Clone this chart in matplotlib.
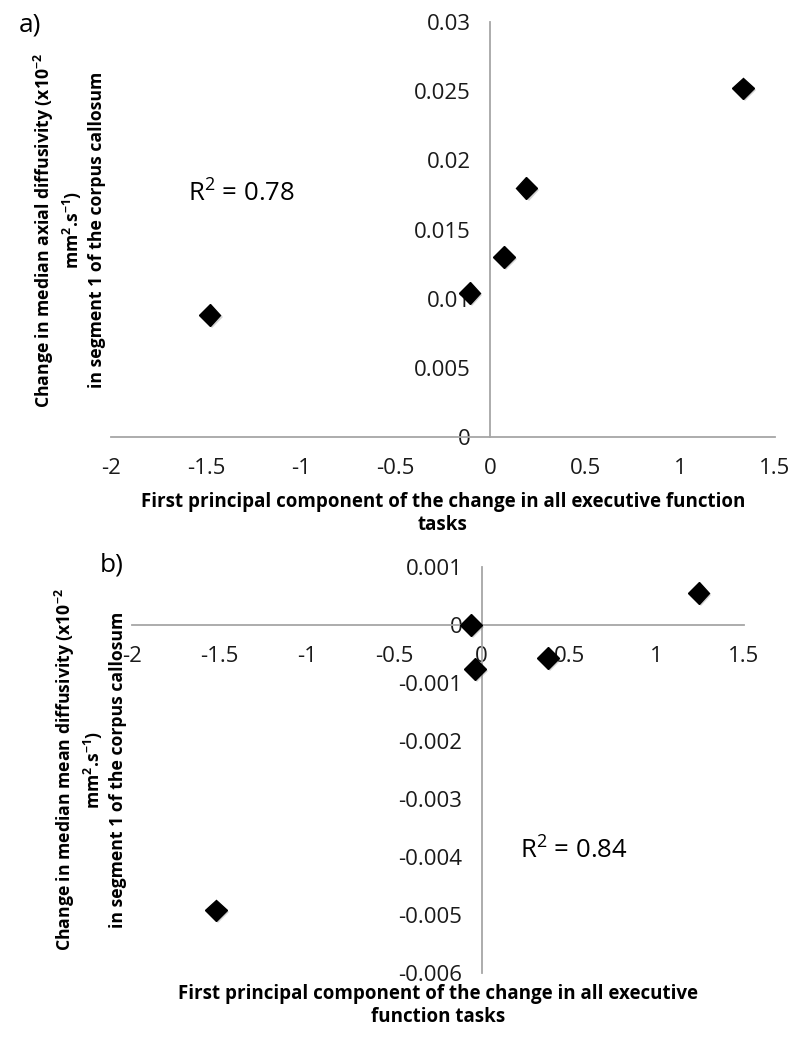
import matplotlib
matplotlib.use("Agg")
import matplotlib.pyplot as plt
import matplotlib.patheffects as pe
from matplotlib.ticker import FuncFormatter

plt.rcParams['font.family'] = ['Open Sans', 'DejaVu Sans']
plt.rcParams['mathtext.fontset'] = 'custom'
plt.rcParams['mathtext.rm'] = 'Open Sans'
plt.rcParams['mathtext.bf'] = 'Open Sans:bold'

# panel a: axial diffusivity
pc_a = [-1.48, -0.11, 0.07, 0.19, 1.33]
axial_a = [0.0088, 0.0104, 0.0130, 0.0180, 0.0252]
xticks_a = [-2, -1.5, -1, -0.5, 0, 0.5, 1, 1.5]
yticks_a = [0, 0.005, 0.01, 0.015, 0.02, 0.025, 0.03]

# panel b: mean diffusivity
pc_b = [-1.52, -0.06, -0.04, 0.38, 1.24]
mean_b = [-0.00492, 0.0, -0.00076, -0.00057, 0.00055]
xticks_b = [-2, -1.5, -1, -0.5, 0, 0.5, 1, 1.5]
yticks_b = [-0.006, -0.005, -0.004, -0.003, -0.002, -0.001, 0, 0.001]

xlabel_a = "First principal component of the change in all executive function\ntasks"
xlabel_b = "First principal component of the change in all executive\nfunction tasks"
ylabel_a = ("Change in median axial diffusivity (x10$^{\\mathbf{-2}}$\n"
            "mm$^{\\mathbf{2}}$.s$^{\\mathbf{-1}}$)\n"
            "in segment 1 of the corpus callosum")
ylabel_b = ("Change in median mean diffusivity (x10$^{\\mathbf{-2}}$\n"
            "mm$^{\\mathbf{2}}$.s$^{\\mathbf{-1}}$)\n"
            "in segment 1 of the corpus callosum")

W, H = 800, 1050
fig = plt.figure(figsize=(8, 10.5), dpi=100)


def px_axes(left, top, right, bottom):
    return fig.add_axes([left / W, 1 - bottom / H, (right - left) / W, (bottom - top) / H])


def style(ax, xticks, yticks):
    for s in ['top', 'right']:
        ax.spines[s].set_visible(False)
    for s in ['left', 'bottom']:
        ax.spines[s].set_position(('data', 0))
        ax.spines[s].set_color('#a6a6a6')
        ax.spines[s].set_linewidth(1.3)
    ax.set_xticks(xticks)
    ax.set_yticks(yticks)
    fmt = FuncFormatter(lambda v, p: '%g' % round(v, 6))
    ax.xaxis.set_major_formatter(fmt)
    ax.yaxis.set_major_formatter(fmt)
    ax.tick_params(axis='x', length=0, pad=15, labelsize=16, colors='#1a1a1a')
    ax.tick_params(axis='y', length=0, pad=14, labelsize=16, colors='#1a1a1a')
    ax.patch.set_visible(False)


def scatter(ax, x, y):
    ax.plot(x, y, 'D', color='black', markersize=11, clip_on=False, zorder=5,
            path_effects=[pe.SimplePatchShadow(offset=(1.5, -1.5), shadow_rgbFace='gray', alpha=0.35),
                          pe.Normal()])


ax1 = px_axes(111, 22, 775, 437)
scatter(ax1, pc_a, axial_a)
ax1.set_xlim(-2, 1.5)
ax1.set_ylim(0, 0.03)
style(ax1, xticks_a, yticks_a)

ax2 = px_axes(132, 567, 744, 973)
scatter(ax2, pc_b, mean_b)
ax2.set_xlim(-2, 1.5)
ax2.set_ylim(-0.006, 0.001)
style(ax2, xticks_b, yticks_b)

fig.text(443 / W, 1 - 513 / H, xlabel_a, ha='center', va='center', fontsize=13.5,
         fontweight='bold', linespacing=1.2)
fig.text(438 / W, 1 - 1005 / H, xlabel_b, ha='center', va='center', fontsize=13.5,
         fontweight='bold', linespacing=1.2)
fig.text(69 / W, 1 - 230 / H, ylabel_a, ha='center', va='center', rotation=90,
         fontsize=12.7, fontweight='bold', multialignment='center', linespacing=1.3)
fig.text(90 / W, 1 - 770 / H, ylabel_b, ha='center', va='center', rotation=90,
         fontsize=12.7, fontweight='bold', multialignment='center', linespacing=1.3)

fig.text(30 / W, 1 - 25 / H, "a)", ha='center', va='center', fontsize=19)
fig.text(112 / W, 1 - 565 / H, "b)", ha='center', va='center', fontsize=19)
fig.text(241 / W, 1 - 193 / H, "R$^2$ = 0.78", ha='center', va='center', fontsize=18.5)
fig.text(574 / W, 1 - 850 / H, "R$^2$ = 0.84", ha='center', va='center', fontsize=18.5)

fig.savefig("out.png", dpi=100, facecolor='white')
